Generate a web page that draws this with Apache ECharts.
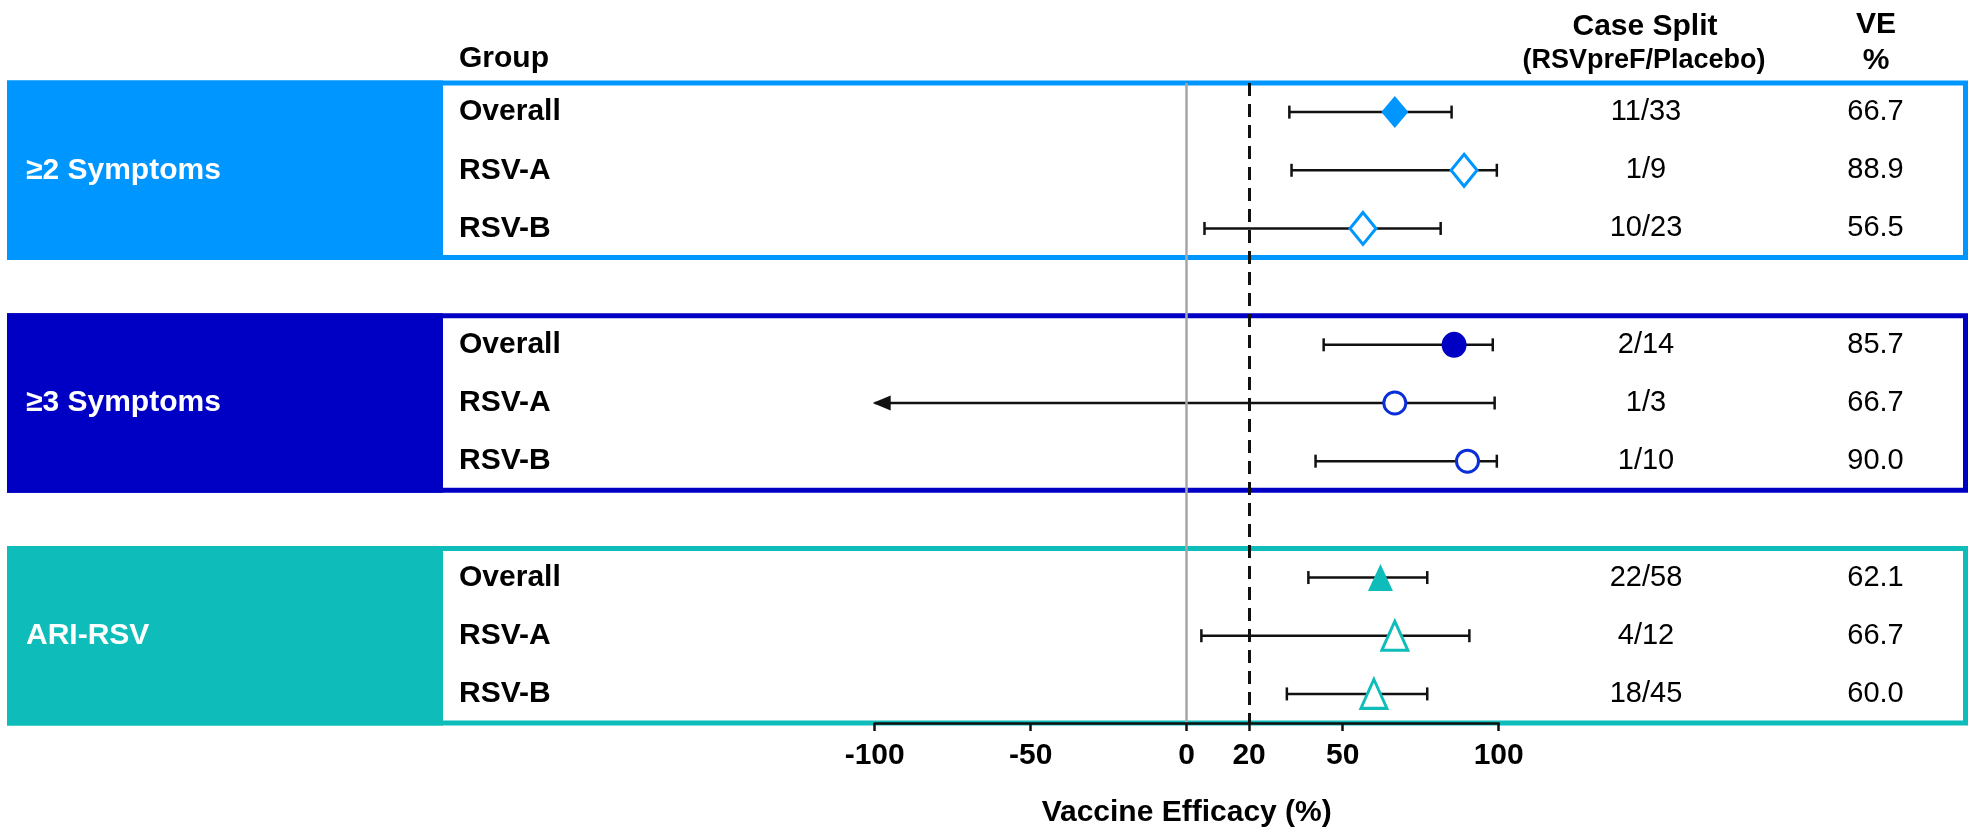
<!DOCTYPE html>
<html><head><meta charset="utf-8">
<script src="https://cdn.jsdelivr.net/npm/echarts@6/dist/echarts.min.js"></script>
<style>html,body{margin:0;padding:0;background:#fff}#c{width:1973px;height:833px}</style>
</head><body><div id="c"></div>
<script>
// ---------- data ----------
const groups = ['≥2 Symptoms', '≥3 Symptoms', 'ARI-RSV'];
const subgroups = ['Overall', 'RSV-A', 'RSV-B'];
const ve = [66.7, 88.9, 56.5, 85.7, 66.7, 90.0, 62.1, 66.7, 60.0];
// lower CI of ≥3 Symptoms / RSV-A lies beyond -100 (drawn as an arrow); value estimated
const ciLower = [32.9, 33.6, 5.7, 43.9, -150, 41.3, 39.0, 4.7, 32.1];
const ciUpper = [84.9, 99.4, 81.4, 98.1, 98.7, 99.4, 77.1, 90.6, 77.1];
const caseSplit = ['11/33', '1/9', '10/23', '2/14', '1/3', '1/10', '22/58', '4/12', '18/45'];
const veText = ['66.7', '88.9', '56.5', '85.7', '66.7', '90.0', '62.1', '66.7', '60.0'];
const xTicks = [-100, -50, 0, 20, 50, 100];

// ---------- styling ----------
const FONT = 'Liberation Sans, Arial, Helvetica, sans-serif';
const groupColors = ['#0096FF', '#0000C4', '#0EBDB9'];
const openColors = ['#0096FF', '#0A2FD8', '#0EBDB9'];
const groupSymbols = ['diamond', 'circle', 'triangle'];
const filledSize = [[27, 32], [25, 26], [25, 27]];
const openSize = [[26, 32], [22, 22], [26, 29]];

const nRows = groups.length * 4 - 1;
const rowLabels = [], panelLabels = [], csRows = [], veRows = [];
for (let r = 0; r < nRows; r++) {
  const g = Math.floor(r / 4), s = r % 4;
  if (s === 3) { rowLabels.push(''); csRows.push(''); veRows.push(''); }
  else {
    rowLabels.push(subgroups[s]);
    csRows.push(caseSplit[g * 3 + s]);
    veRows.push(veText[g * 3 + s]);
  }
  panelLabels.push(s === 1 ? groups[g] : '');
}

const pointData = [], ciData = [];
for (let g = 0; g < groups.length; g++) {
  for (let s = 0; s < subgroups.length; s++) {
    const i = g * 3 + s, row = g * 4 + s, filled = s === 0;
    pointData.push({
      value: [ve[i], row],
      symbol: groupSymbols[g],
      symbolSize: filled ? filledSize[g] : openSize[g],
      itemStyle: filled ? { color: groupColors[g], borderWidth: 0, opacity: 1 }
                        : { color: '#fff', borderColor: openColors[g], borderWidth: 3, opacity: 1 }
    });
    ciData.push([ciLower[i], ciUpper[i], row]);
  }
}

const X_MIN = -100, X_MAX = 100;

function renderCI(params, api) {
  const lo = api.value(0), hi = api.value(1), row = api.value(2);
  const clipped = lo < X_MIN;
  const pL = api.coord([clipped ? X_MIN : lo, row]);
  const pH = api.coord([hi, row]);
  const cap = 6.5;
  const st = { stroke: '#111', lineWidth: 2.5 };
  const ch = [
    { type: 'line', shape: { x1: pL[0], y1: pL[1], x2: pH[0], y2: pH[1] }, style: st },
    { type: 'line', shape: { x1: pH[0], y1: pH[1] - cap, x2: pH[0], y2: pH[1] + cap }, style: st }
  ];
  if (clipped) {
    ch.push({ type: 'polygon', shape: { points: [[pL[0] - 2, pL[1]], [pL[0] + 16, pL[1] - 7.5], [pL[0] + 16, pL[1] + 7.5]] }, style: { fill: '#111' } });
  } else {
    ch.push({ type: 'line', shape: { x1: pL[0], y1: pL[1] - cap, x2: pL[0], y2: pL[1] + cap }, style: st });
  }
  return { type: 'group', children: ch };
}

function renderBox(params, api) {
  const g = api.value(0);
  const yTop = api.coord([0, g * 4 - 0.5])[1];
  const yBot = api.coord([0, g * 4 + 2.5])[1];
  const W = api.getWidth();
  const c = groupColors[g];
  return { type: 'group', children: [
    { type: 'rect', shape: { x: 7, y: yTop - 2.5, width: 443 - 7, height: yBot - yTop + 5 }, style: { fill: c } },
    { type: 'rect', shape: { x: 9.5, y: yTop, width: W - 9.5 - 7.5, height: yBot - yTop }, style: { fill: null, stroke: c, lineWidth: 5 } }
  ] };
}

const gridLeft = 874.7, gridRight = 1973 - 1498.7, gridTop = 83, gridBottom = 833 - 731;
const plotRightX = 1498.7;

function catAxis(data, position, margin, align, extra) {
  return {
    type: 'category', data: data, inverse: true, position: position, z: 12,
    axisLine: { show: false, onZero: false }, axisTick: { show: false }, splitLine: { show: false },
    axisLabel: Object.assign({ interval: 0, margin: margin, align: align, fontFamily: FONT, fontSize: 30, color: '#000' }, extra)
  };
}

const chart = echarts.init(document.getElementById('c'), null, { renderer: 'canvas' });
chart.setOption({
  animation: false,
  backgroundColor: '#fff',
  textStyle: { fontFamily: FONT },
  grid: { left: gridLeft, right: gridRight, top: gridTop, bottom: gridBottom, containLabel: false },
  xAxis: {
    type: 'value', min: X_MIN, max: X_MAX, z: 10,
    axisLine: { show: true, onZero: false, lineStyle: { color: '#111', width: 2.5 } },
    axisTick: { show: true, customValues: xTicks, length: 8, lineStyle: { color: '#111', width: 2.5 } },
    axisLabel: { customValues: xTicks, fontFamily: FONT, fontSize: 30, fontWeight: 'bold', color: '#000', margin: 18 },
    splitLine: { show: false },
    name: 'Vaccine Efficacy (%)', nameLocation: 'middle', nameGap: 75,
    nameTextStyle: { fontFamily: FONT, fontSize: 30, fontWeight: 'bold', color: '#000' }
  },
  yAxis: [
    { type: 'value', min: -0.5, max: nRows - 0.5, inverse: true, show: false, axisLine: { onZero: false } },
    catAxis(rowLabels, 'left', gridLeft - 459, 'left', { fontWeight: 'bold' }),
    catAxis(panelLabels, 'left', gridLeft - 26, 'left', { fontWeight: 'bold', color: '#fff' }),
    catAxis(csRows, 'right', 1646 - plotRightX, 'center', { fontSize: 29 }),
    catAxis(veRows, 'right', 1875.5 - plotRightX, 'center', { fontSize: 29 })
  ],
  graphic: [
    { type: 'text', x: 459, y: 59, z: 20, style: { text: 'Group', fontFamily: FONT, fontSize: 30, fontWeight: 'bold', fill: '#000', align: 'left', verticalAlign: 'middle' } },
    { type: 'text', x: 1645, y: 27, z: 20, style: { text: 'Case Split', fontFamily: FONT, fontSize: 30, fontWeight: 'bold', fill: '#000', align: 'center', verticalAlign: 'middle' } },
    { type: 'text', x: 1644, y: 61, z: 20, style: { text: '(RSVpreF/Placebo)', fontFamily: FONT, fontSize: 27, fontWeight: 'bold', fill: '#000', align: 'center', verticalAlign: 'middle' } },
    { type: 'text', x: 1876, y: 25, z: 20, style: { text: 'VE', fontFamily: FONT, fontSize: 30, fontWeight: 'bold', fill: '#000', align: 'center', verticalAlign: 'middle' } },
    { type: 'text', x: 1876, y: 61, z: 20, style: { text: '%', fontFamily: FONT, fontSize: 30, fontWeight: 'bold', fill: '#000', align: 'center', verticalAlign: 'middle' } }
  ],
  series: [
    { type: 'custom', name: 'boxes', z: 1, clip: false, silent: true, yAxisIndex: 0,
      data: groups.map((_, g) => [g]), encode: { x: 0 }, renderItem: renderBox },
    { type: 'scatter', name: 'refs', z: 2, yAxisIndex: 0, data: [], silent: true,
      markLine: { silent: true, symbol: ['none', 'none'], label: { show: false }, animation: false,
        data: [
          { xAxis: 0, lineStyle: { color: '#A6A6A6', width: 2.5, type: 'solid' } },
          { xAxis: 20, lineStyle: { color: '#111', width: 3, type: [13, 8] } }
        ] } },
    { type: 'custom', name: 'ci', z: 3, clip: false, yAxisIndex: 0,
      data: ciData, encode: { x: [0, 1], y: 2 }, renderItem: renderCI },
    { type: 'scatter', name: 've', z: 4, yAxisIndex: 0, data: pointData, itemStyle: { opacity: 1 } }
  ]
});
</script>
</body></html>
